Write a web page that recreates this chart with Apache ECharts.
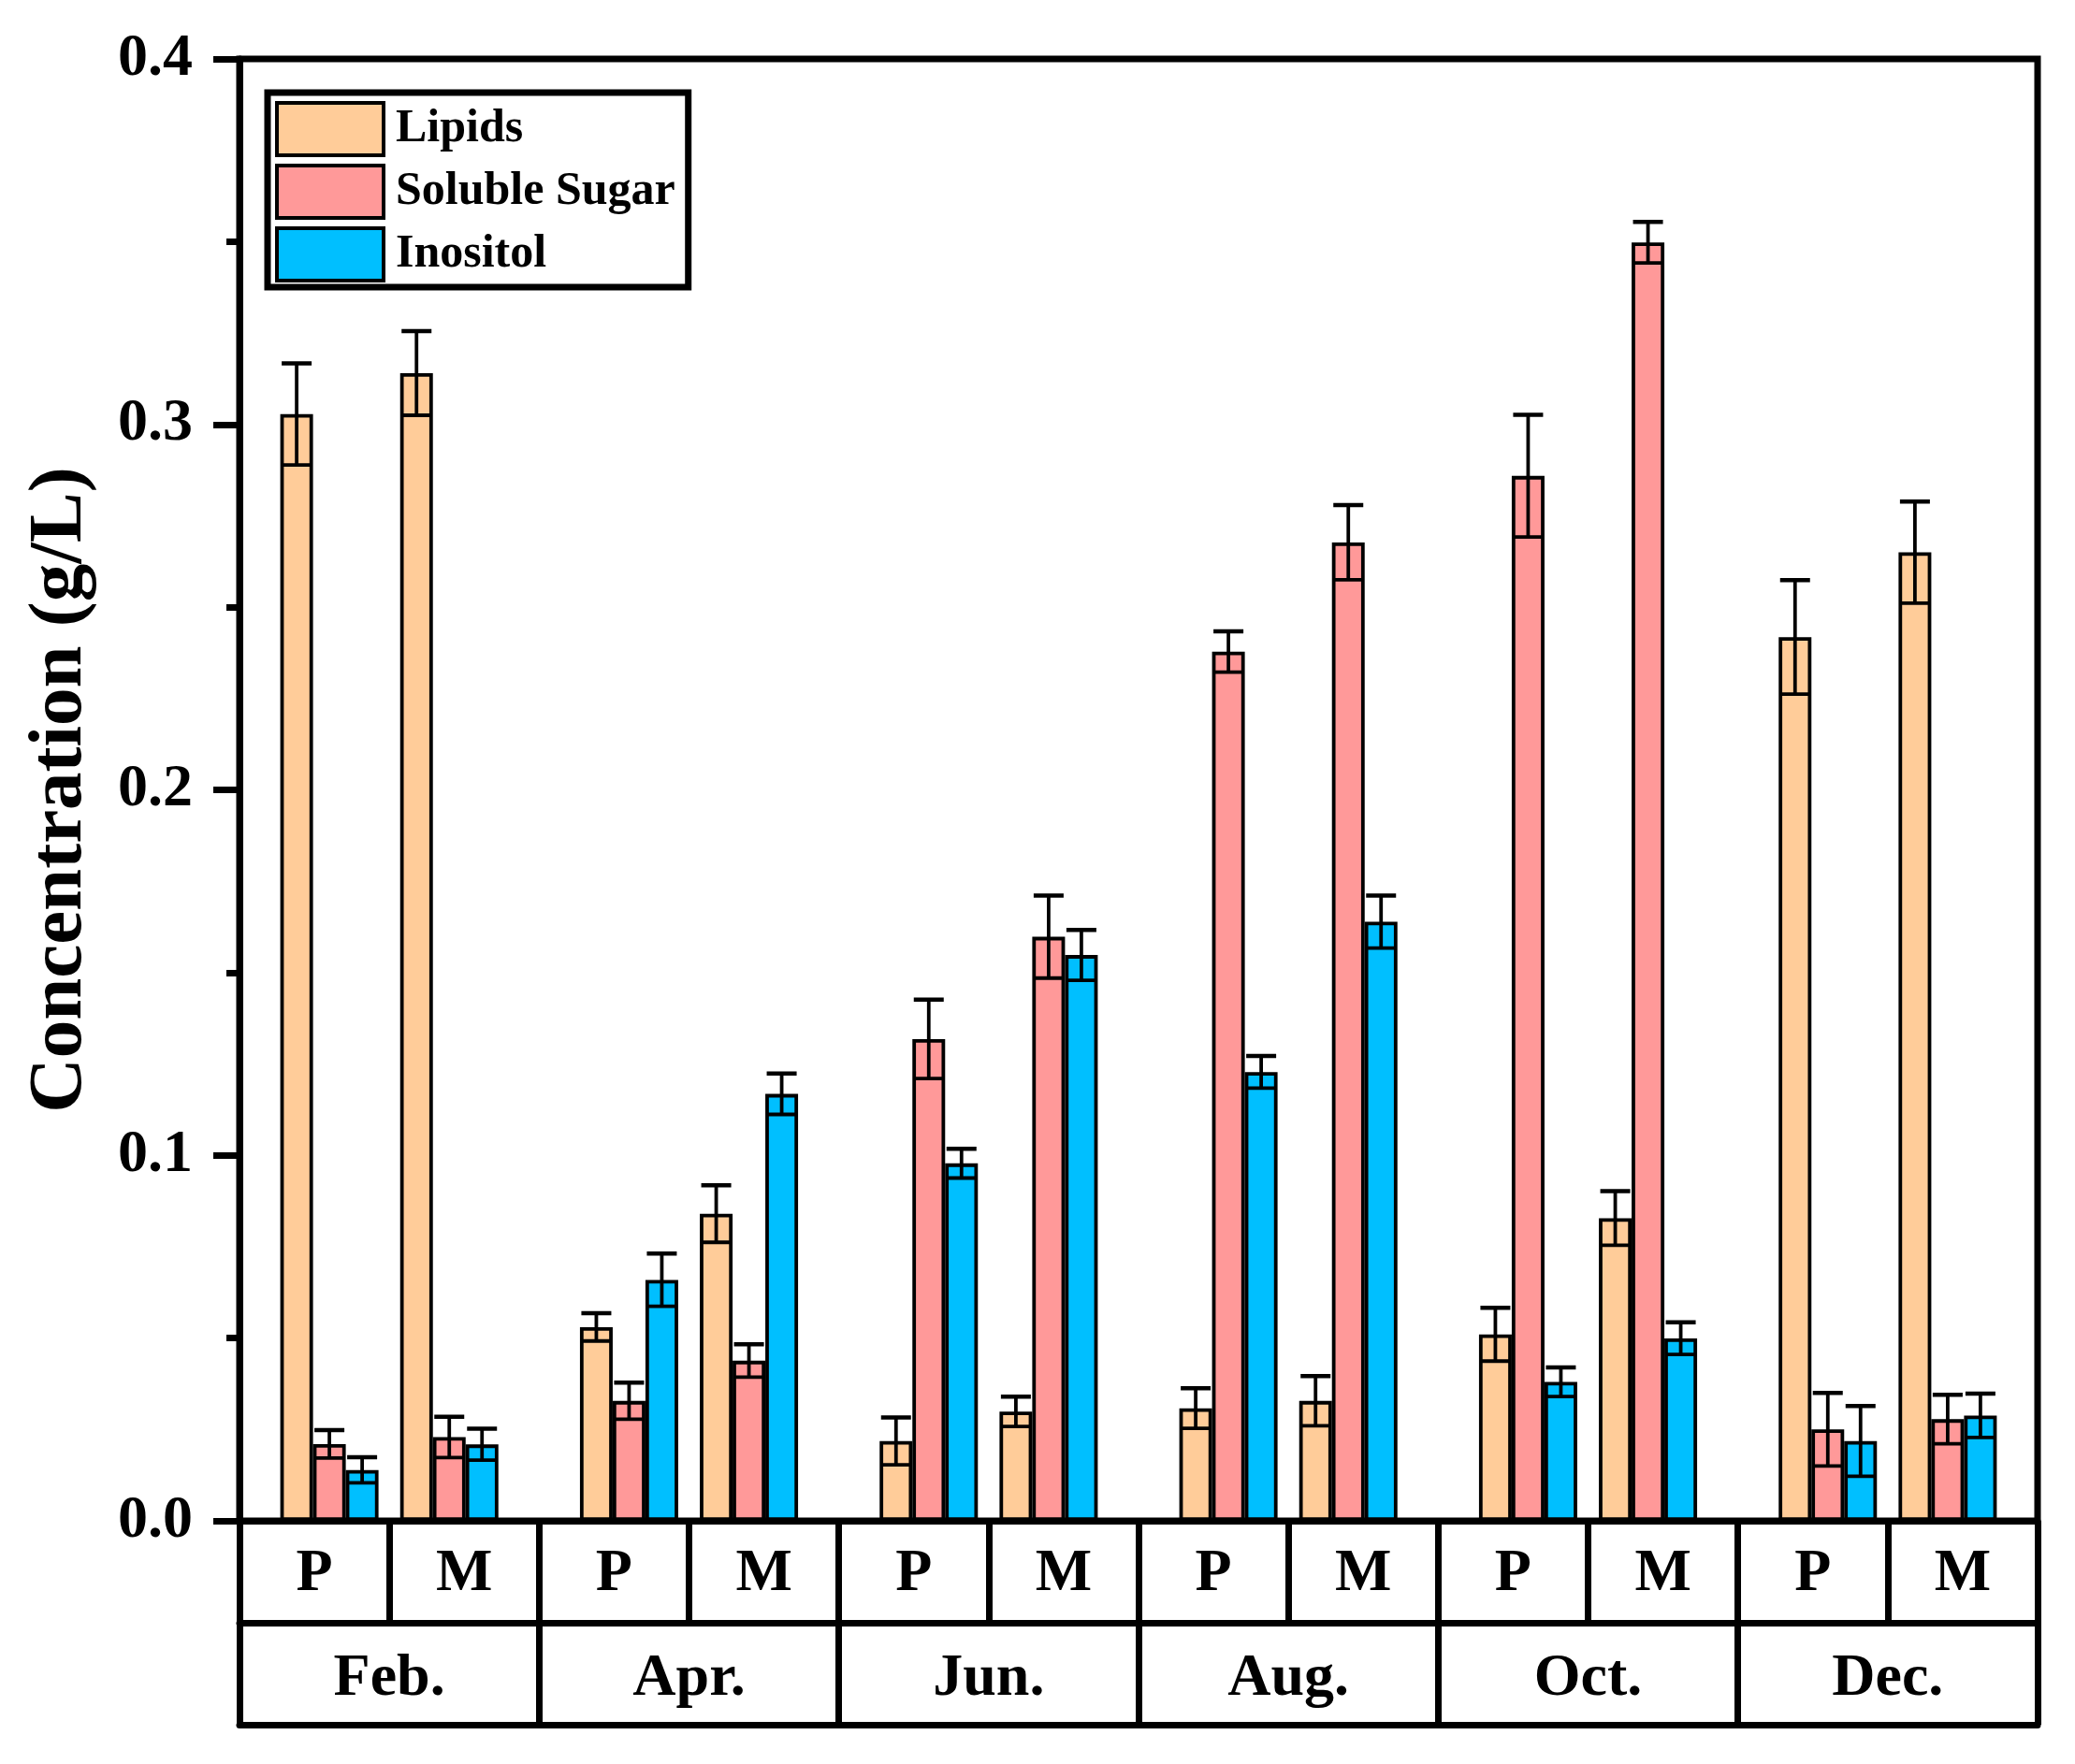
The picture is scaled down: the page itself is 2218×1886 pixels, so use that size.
<!DOCTYPE html>
<html>
<head>
<meta charset="utf-8">
<script src="https://cdn.jsdelivr.net/npm/echarts@6/dist/echarts.min.js"></script>
<style>
  html, body { margin: 0; padding: 0; background: #fff; }
  #chart { width: 2218px; height: 1886px; }
</style>
</head>
<body>
<div id="chart"></div>
<script>
// months and site labels (P / M inside each month)
var months = ['Feb.', 'Apr.', 'Jun.', 'Aug.', 'Oct.', 'Dec.'];
var sites = ['P', 'M'];
var seriesNames = ['Lipids', 'Soluble Sugar', 'Inositol'];
var yTicks = [0, 0.1, 0.2, 0.3, 0.4];

// values in order Feb P, Feb M, Apr P, Apr M, ... Dec M
var lipids      = [0.3028, 0.3140, 0.0530, 0.0840, 0.0218, 0.0299, 0.0308, 0.0328, 0.0510, 0.0828, 0.2418, 0.2650];
var lipidsErr   = [0.0139, 0.0115, 0.0038, 0.0078, 0.0065, 0.0041, 0.0055, 0.0068, 0.0073, 0.0074, 0.0156, 0.0139];
var sugar       = [0.0210, 0.0229, 0.0328, 0.0438, 0.1318, 0.1598, 0.2378, 0.2677, 0.2859, 0.3498, 0.0250, 0.0278];
var sugarErr    = [0.0038, 0.0056, 0.0050, 0.0045, 0.0108, 0.0113, 0.0056, 0.0102, 0.0167, 0.0056, 0.0100, 0.0067];
var inositol    = [0.0139, 0.0209, 0.0659, 0.1168, 0.0978, 0.1548, 0.1228, 0.1639, 0.0380, 0.0499, 0.0218, 0.0288];
var inositolErr = [0.0035, 0.0043, 0.0072, 0.0056, 0.0040, 0.0069, 0.0044, 0.0072, 0.0040, 0.0044, 0.0096, 0.0060];

var colors = ['#FFCC99', '#FF9999', '#00BFFF'];
var FONT = "'Liberation Serif', 'Times New Roman', serif";
var BAR_W = 35;
var CAP_W = 32;

// each month is split in 5 slots, P sits in slot 1 and M in slot 3
var SLOTS = 5;
var slotOf = [1, 3];
var slotCats = [];
months.forEach(function (m) {
  for (var s = 0; s < SLOTS; s++) slotCats.push(m + '#' + s);
});
var siteCats = [];
months.forEach(function () { sites.forEach(function (s) { siteCats.push(s); }); });

function toSlots(arr) {
  var out = slotCats.map(function () { return null; });
  arr.forEach(function (v, i) {
    out[Math.floor(i / 2) * SLOTS + slotOf[i % 2]] = v;
  });
  return out;
}

var allVals = [lipids, sugar, inositol];
var allErrs = [lipidsErr, sugarErr, inositolErr];
var errData = [];
allVals.forEach(function (vals, k) {
  vals.forEach(function (v, i) {
    errData.push([Math.floor(i / 2) * SLOTS + slotOf[i % 2], v, allErrs[k][i], k]);
  });
});

function renderErr(params, api) {
  var x = api.value(0), v = api.value(1), e = api.value(2), k = api.value(3);
  var hi = api.coord([x, v + e]);
  var lo = api.coord([x, v - e]);
  var cx = hi[0] + (k - 1) * BAR_W;
  var hw = CAP_W / 2;
  var st = { stroke: '#000', lineWidth: 3.8 };
  return {
    type: 'group',
    children: [
      { type: 'line', shape: { x1: cx, y1: hi[1], x2: cx, y2: lo[1] }, style: st },
      { type: 'line', shape: { x1: cx - hw, y1: hi[1], x2: cx + hw, y2: hi[1] }, style: { stroke: '#000', lineWidth: 4.5 } },
      { type: 'line', shape: { x1: cx - hw, y1: lo[1], x2: cx + hw, y2: lo[1] }, style: st }
    ]
  };
}

var barSeries = seriesNames.map(function (name, k) {
  return {
    name: name,
    type: 'bar',
    xAxisIndex: 0,
    barWidth: BAR_W,
    barGap: '0%',
    itemStyle: { color: colors[k], borderColor: '#000', borderWidth: 3.8 },
    data: toSlots(allVals[k])
  };
});

var option = {
  animation: false,
  backgroundColor: '#fff',
  grid: {
    left: 256, right: 40, top: 63, bottom: 260,
    show: true, borderColor: '#000', borderWidth: 7, backgroundColor: 'transparent'
  },
  legend: {
    data: seriesNames,
    orient: 'vertical',
    left: 286,
    top: 99,
    padding: [9, 14, 5, 8],
    itemWidth: 114,
    itemHeight: 56,
    itemGap: 7,
    icon: 'rect',
    borderColor: '#000',
    borderWidth: 7,
    itemStyle: { borderColor: '#000', borderWidth: 4 },
    textStyle: { fontFamily: FONT, fontWeight: 'bold', fontSize: 50, lineHeight: 56, color: '#000', padding: [0, 0, 0, 8] }
  },
  xAxis: [
    {
      type: 'category',
      data: slotCats,
      axisLine: { show: true, lineStyle: { color: '#000', width: 7 } },
      axisTick: { show: false },
      axisLabel: { show: false },
      splitLine: { show: false }
    },
    {
      type: 'category',
      data: siteCats,
      position: 'bottom',
      offset: 109,
      axisLine: { show: true, lineStyle: { color: '#000', width: 7 } },
      axisTick: { show: true, inside: true, length: 109, interval: 0, lineStyle: { color: '#000', width: 7 } },
      axisLabel: { inside: true, margin: 20, interval: 0, fontFamily: FONT, fontWeight: 'bold', fontSize: 64, color: '#000' },
      splitLine: { show: false }
    },
    {
      type: 'category',
      data: months,
      position: 'bottom',
      offset: 218,
      axisLine: { show: true, lineStyle: { color: '#000', width: 7 } },
      axisTick: { show: true, inside: true, length: 109, interval: 0, lineStyle: { color: '#000', width: 7 } },
      axisLabel: { inside: true, margin: 17, interval: 0, fontFamily: FONT, fontWeight: 'bold', fontSize: 64, color: '#000' },
      splitLine: { show: false }
    }
  ],
  yAxis: {
    type: 'value',
    min: yTicks[0],
    max: yTicks[yTicks.length - 1],
    interval: yTicks[1] - yTicks[0],
    name: 'Concentration (g/L)',
    nameLocation: 'middle',
    nameRotate: 90,
    nameGap: 150,
    nameTextStyle: { fontFamily: FONT, fontWeight: 'bold', fontSize: 81, color: '#000' },
    axisLine: { show: true, lineStyle: { color: '#000', width: 7 } },
    axisTick: { show: true, length: 28, lineStyle: { color: '#000', width: 7 } },
    minorTick: { show: true, splitNumber: 2, length: 14, lineStyle: { color: '#000', width: 7 } },
    axisLabel: {
      margin: 50,
      fontFamily: FONT, fontWeight: 'bold', fontSize: 64, color: '#000',
      formatter: function (v) { return v.toFixed(1); }
    },
    splitLine: { show: false }
  },
  series: barSeries.concat([{
    name: 'err',
    type: 'custom',
    xAxisIndex: 0,
    z: 5,
    renderItem: renderErr,
    encode: { x: 0, y: 1 },
    data: errData
  }])
};

var chart = echarts.init(document.getElementById('chart'));
chart.setOption(option);
</script>
</body>
</html>
